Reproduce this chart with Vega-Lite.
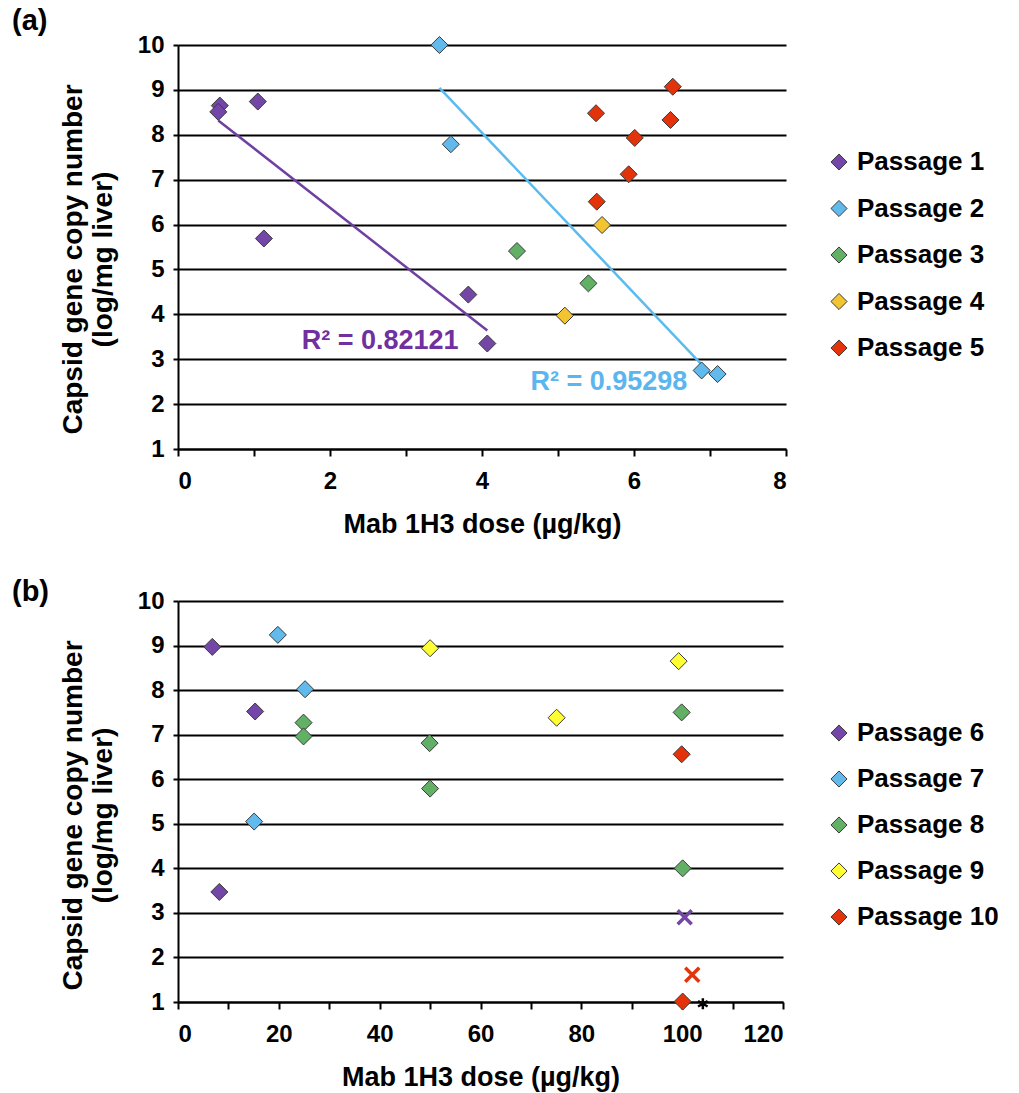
{
  "$schema": "https://vega.github.io/schema/vega-lite/v6.json",
  "background": "white",
  "padding": {"left": 12, "top": 7, "right": 5, "bottom": 5},
  "datasets": {
    "a": [
      {"passage": "Passage 1", "dose": 0.55, "value": 8.65},
      {"passage": "Passage 1", "dose": 0.53, "value": 8.51},
      {"passage": "Passage 1", "dose": 1.05, "value": 8.74},
      {"passage": "Passage 1", "dose": 1.13, "value": 5.69},
      {"passage": "Passage 1", "dose": 3.82, "value": 4.44},
      {"passage": "Passage 1", "dose": 4.07, "value": 3.35},
      {"passage": "Passage 2", "dose": 3.44, "value": 10.0},
      {"passage": "Passage 2", "dose": 3.59, "value": 7.79},
      {"passage": "Passage 2", "dose": 6.89, "value": 2.75},
      {"passage": "Passage 2", "dose": 7.10, "value": 2.67},
      {"passage": "Passage 3", "dose": 4.46, "value": 5.41},
      {"passage": "Passage 3", "dose": 5.40, "value": 4.69},
      {"passage": "Passage 4", "dose": 5.09, "value": 3.97},
      {"passage": "Passage 4", "dose": 5.58, "value": 5.99},
      {"passage": "Passage 5", "dose": 5.50, "value": 8.48},
      {"passage": "Passage 5", "dose": 5.51, "value": 6.51},
      {"passage": "Passage 5", "dose": 5.93, "value": 7.12},
      {"passage": "Passage 5", "dose": 6.01, "value": 7.93},
      {"passage": "Passage 5", "dose": 6.48, "value": 8.33},
      {"passage": "Passage 5", "dose": 6.51, "value": 9.07}
    ],
    "b": [
      {"passage": "Passage 6", "dose": 6.8, "value": 8.97, "marker": "diamond"},
      {"passage": "Passage 6", "dose": 15.3, "value": 7.52, "marker": "diamond"},
      {"passage": "Passage 6", "dose": 8.2, "value": 3.47, "marker": "diamond"},
      {"passage": "Passage 6", "dose": 100.5, "value": 2.90, "marker": "x"},
      {"passage": "Passage 7", "dose": 19.8, "value": 9.24, "marker": "diamond"},
      {"passage": "Passage 7", "dose": 25.2, "value": 8.02, "marker": "diamond"},
      {"passage": "Passage 7", "dose": 15.1, "value": 5.05, "marker": "diamond"},
      {"passage": "Passage 8", "dose": 24.9, "value": 7.27, "marker": "diamond"},
      {"passage": "Passage 8", "dose": 24.9, "value": 6.96, "marker": "diamond"},
      {"passage": "Passage 8", "dose": 49.9, "value": 6.81, "marker": "diamond"},
      {"passage": "Passage 8", "dose": 50.0, "value": 5.79, "marker": "diamond"},
      {"passage": "Passage 8", "dose": 99.9, "value": 7.50, "marker": "diamond"},
      {"passage": "Passage 8", "dose": 100.1, "value": 4.0, "marker": "diamond"},
      {"passage": "Passage 9", "dose": 50.0, "value": 8.94, "marker": "diamond"},
      {"passage": "Passage 9", "dose": 75.1, "value": 7.38, "marker": "diamond"},
      {"passage": "Passage 9", "dose": 99.3, "value": 8.65, "marker": "diamond"},
      {"passage": "Passage 10", "dose": 99.9, "value": 6.56, "marker": "diamond"},
      {"passage": "Passage 10", "dose": 100.1, "value": 1.01, "marker": "diamond"},
      {"passage": "Passage 10", "dose": 102.0, "value": 1.61, "marker": "x"},
      {"passage": "none", "dose": 104.1, "value": 0.96, "marker": "asterisk"}
    ]
  },
  "spacing": 41,
  "resolve": {"scale": {"color": "independent", "x": "independent", "y": "independent"}, "legend": {"color": "independent"}},
  "vconcat": [
    {
      "title": {"text": "(a)", "anchor": "start", "frame": "group", "dx": -166, "fontSize": 29, "fontWeight": "bold", "color": "black", "font": "Liberation Sans", "offset": -3},
      "width": 608,
      "height": 404,
      "encoding": {
        "x": {"field": "dose", "type": "quantitative", "scale": {"domain": [0, 8], "nice": false, "zero": false},
              "axis": {"values": [0, 1, 2, 3, 4, 5, 6, 7, 8], "labelExpr": "datum.value % 2 === 0 ? datum.label : ''", "title": "Mab 1H3 dose (µg/kg)", "grid": false}},
        "y": {"field": "value", "type": "quantitative", "scale": {"domain": [1, 10], "nice": false, "zero": false},
              "axis": {"values": [1, 2, 3, 4, 5, 6, 7, 8, 9, 10], "title": ["Capsid gene copy number", "(log/mg liver)"], "grid": true, "titleY": 214}}
      },
      "layer": [
        {
          "data": {"name": "a"},
          "transform": [{"filter": "datum.passage === 'Passage 1'"}, {"regression": "value", "on": "dose"}],
          "mark": {"type": "line", "color": "#7040A0", "strokeWidth": 2.5}
        },
        {
          "data": {"name": "a"},
          "transform": [{"filter": "datum.passage === 'Passage 2'"}, {"regression": "value", "on": "dose"}],
          "mark": {"type": "line", "color": "#5BBBEF", "strokeWidth": 2.5}
        },
        {
          "data": {"name": "a"},
          "mark": {"type": "point", "shape": "diamond", "filled": true, "size": 290, "stroke": "#3a3a3a", "strokeWidth": 1, "opacity": 1},
          "encoding": {
            "color": {"field": "passage", "type": "nominal",
              "scale": {"domain": ["Passage 1", "Passage 2", "Passage 3", "Passage 4", "Passage 5"], "range": ["#7346A8", "#62B9EC", "#62B066", "#F2C431", "#E2330A"]},
              "legend": {"title": null, "orient": "none", "legendX": 648, "legendY": 104, "symbolType": "diamond", "symbolSize": 260, "symbolStrokeColor": "#3a3a3a", "symbolStrokeWidth": 1, "labelFontSize": 26, "labelFontWeight": "bold", "labelFont": "Liberation Sans", "labelColor": "black", "rowPadding": 20.5, "labelOffset": 5, "padding": 0}}
          }
        },
        {
          "data": {"values": [{"dose": 2.66, "value": 3.41, "label": "R² = 0.82121"}]},
          "mark": {"type": "text", "color": "#7030A0", "fontSize": 27, "fontWeight": "bold", "font": "Liberation Sans"},
          "encoding": {"text": {"field": "label"}}
        },
        {
          "data": {"values": [{"dose": 5.67, "value": 2.49, "label": "R² = 0.95298"}]},
          "mark": {"type": "text", "color": "#5BB5EE", "fontSize": 27, "fontWeight": "bold", "font": "Liberation Sans"},
          "encoding": {"text": {"field": "label"}}
        }
      ]
    },
    {
      "title": {"text": "(b)", "anchor": "start", "frame": "group", "dx": -166, "fontSize": 29, "fontWeight": "bold", "color": "black", "font": "Liberation Sans", "offset": -18},
      "width": 605,
      "height": 401,
      "data": {"name": "b"},
      "encoding": {
        "x": {"field": "dose", "type": "quantitative", "scale": {"domain": [0, 120], "nice": false, "zero": false},
              "axis": {"values": [0, 10, 20, 30, 40, 50, 60, 70, 80, 90, 100, 110, 120], "labelExpr": "datum.value % 20 === 0 ? datum.label : ''", "title": "Mab 1H3 dose (µg/kg)", "grid": false}},
        "y": {"field": "value", "type": "quantitative", "scale": {"domain": [1, 10], "nice": false, "zero": false},
              "axis": {"values": [1, 2, 3, 4, 5, 6, 7, 8, 9, 10], "title": ["Capsid gene copy number", "(log/mg liver)"], "grid": true, "titleY": 214}}
      },
      "layer": [
        {
          "transform": [{"filter": "datum.marker === 'diamond'"}],
          "mark": {"type": "point", "shape": "diamond", "filled": true, "size": 290, "stroke": "#3a3a3a", "strokeWidth": 1, "opacity": 1},
          "encoding": {
            "color": {"field": "passage", "type": "nominal",
              "scale": {"domain": ["Passage 6", "Passage 7", "Passage 8", "Passage 9", "Passage 10"], "range": ["#7346A8", "#62B9EC", "#62B066", "#FFFF33", "#E2330A"]},
              "legend": {"title": null, "orient": "none", "legendX": 648, "legendY": 119, "symbolType": "diamond", "symbolSize": 260, "symbolStrokeColor": "#3a3a3a", "symbolStrokeWidth": 1, "labelFontSize": 26, "labelFontWeight": "bold", "labelFont": "Liberation Sans", "labelColor": "black", "rowPadding": 20, "labelOffset": 5, "padding": 0}}
          }
        },
        {
          "transform": [{"filter": "datum.marker === 'x' && datum.passage === 'Passage 6'"}],
          "mark": {"type": "point", "shape": "M-1,-1L1,1M-1,1L1,-1", "filled": false, "size": 196, "color": "#7346A8", "strokeWidth": 3.5, "opacity": 1}
        },
        {
          "transform": [{"filter": "datum.marker === 'x' && datum.passage === 'Passage 10'"}],
          "mark": {"type": "point", "shape": "M-1,-1L1,1M-1,1L1,-1", "filled": false, "size": 196, "color": "#E2330A", "strokeWidth": 3.5, "opacity": 1}
        },
        {
          "transform": [{"filter": "datum.marker === 'asterisk'"}],
          "mark": {"type": "point", "shape": "M0,-1L0,1M-0.87,-0.5L0.87,0.5M-0.87,0.5L0.87,-0.5", "filled": false, "size": 121, "color": "black", "strokeWidth": 2.5, "opacity": 1}
        }
      ]
    }
  ],
  "config": {
    "font": "Liberation Sans",
    "view": {"stroke": null},
    "axis": {
      "labelFont": "Liberation Sans", "labelFontSize": 24, "labelFontWeight": "bold", "labelColor": "black",
      "titleFont": "Liberation Sans", "titleFontSize": 27, "titleFontWeight": "bold", "titleColor": "black",
      "domainColor": "black", "domainWidth": 2, "tickColor": "black", "tickWidth": 2, "tickSize": 7,
      "gridColor": "black", "gridWidth": 2, "gridOpacity": 1, "labelPadding": 6
    },
    "axisY": {"titlePadding": 20, "titleLineHeight": 30, "tickSize": 5, "titleFontSize": 28, "labelPadding": 9},
    "axisX": {"titlePadding": 18, "labelPadding": 13}
  }
}
